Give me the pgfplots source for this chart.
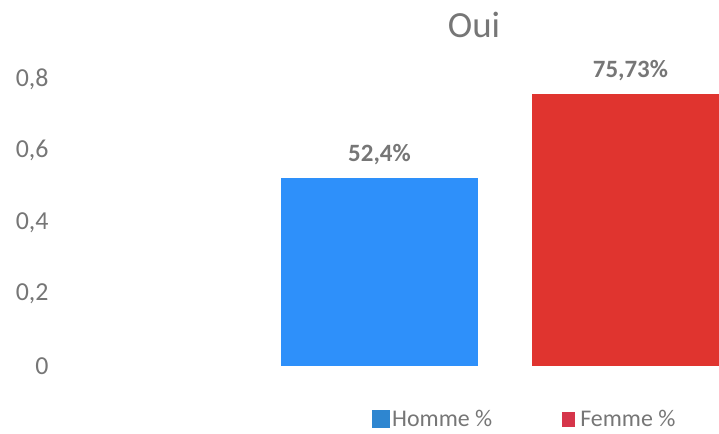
\documentclass[border=0pt]{standalone}
\usepackage{fontspec}
\setmainfont{Carlito}
\usepackage{pgfplots}
\pgfplotsset{compat=1.18}
\definecolor{bblue}{RGB}{46,144,250}
\definecolor{rred}{RGB}{224,52,47}
\definecolor{lblue}{RGB}{46,134,208}
\definecolor{lred}{RGB}{214,53,74}
\definecolor{tgray}{RGB}{118,118,118}
\begin{document}
\begin{tikzpicture}[x=1bp,y=1bp]
\useasboundingbox (0,0) rectangle (719,434);
\begin{axis}[
  at={(60bp,68bp)}, anchor=south west,
  scale only axis, width=659bp, height=287bp,
  xmin=-1.773, xmax=0.853, ymin=0, ymax=0.8,
  ybar, bar width=0.785,
  axis line style={draw=none},
  xtick=\empty,
  ytick={0,0.2,0.4,0.6,0.8},
  yticklabels={0,{0,2},{0,4},{0,6},{0,8}},
  major tick length=0pt,
  yticklabel style={font=\fontsize{26}{30}\selectfont, text=tgray, xshift=-8bp},
  nodes near coords, point meta=explicit symbolic,
  every node near coord/.append style={font=\bfseries\fontsize{25}{30}\selectfont, text=tgray, yshift=10bp},
  legend columns=2,
  legend style={at={(0.4734,-0.186)}, anchor=west, draw=none, fill=none, inner sep=0pt,
    nodes={inner sep=1bp, text=tgray, font=\fontsize{24}{28}\selectfont},
    /tikz/every even column/.append style={column sep=65bp}},
]
\addplot[fill=bblue, draw=none, bar shift=-0.5,
  legend image code/.code={\path[fill=none,draw=none] (0bp,-9bp) rectangle (19bp,9bp); \fill[lblue] (0bp,-9bp) rectangle (18bp,9bp);}]
  coordinates {(0,0.524) [52,4\%]};
\addlegendentry{Homme \%}
\addplot[fill=rred, draw=none, bar shift=0.5,
  legend image code/.code={\path[fill=none,draw=none] (0bp,-9bp) rectangle (21bp,9bp); \fill[lred] (4bp,-7.5bp) rectangle (17bp,7.5bp);}]
  coordinates {(0,0.7573) [75,73\%]};
\addlegendentry{Femme \%}
\end{axis}
\node[font=\fontsize{37}{44}\selectfont, text=tgray] at (474,409) {Oui};
\end{tikzpicture}
\end{document}
